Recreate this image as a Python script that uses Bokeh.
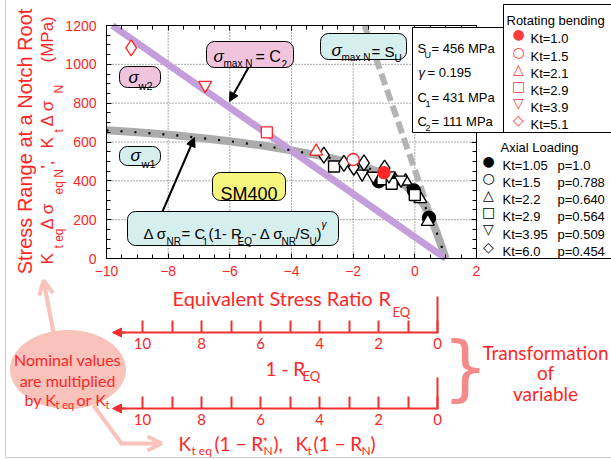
import numpy as np
from bokeh.plotting import figure
from bokeh.models import (Range1d, LinearAxis, Label, Arrow, NormalHead, OpenHead,
                          BoxAnnotation, PolyAnnotation, FixedTicker)
from bokeh.embed import file_html
from bokeh.resources import INLINE

# ---------------- data ----------------
x_major = [-10, -8, -6, -4, -2, 0, 2]
x_minor = [v / 2 for v in range(-20, 5)]
y_major = [0, 200, 400, 600, 800, 1000, 1200]
y_minor = list(range(0, 1201, 50))
x_grid = [-8, -6, -4, -2, 0]
y_grid = [200, 400, 600, 800, 1000]

# sigma_max,N = C2 (straight line)
c2_R = [-9.81, 1.0]
c2_S = [1200, 0]
# sigma_max,N = S_U (straight line)
su_R = [-1.63, 1.0]
su_S = [1200, 0]
# model curve  dS_NR = C1(1 - R_EQ - dS_NR/S_U)^gamma
nr_R = [-10, -9, -8, -7, -6, -5, -4, -3, -2, -1.5, -1, -0.5, 0, 0.3, 0.5, 0.7, 0.85, 1.0]
nr_S = [660, 650, 638, 622, 604, 583, 557, 527, 490, 465, 437, 400, 335, 275, 218, 138, 70, 0]

# rotating bending (red)
rb_labels = ["Kt=1.0", "Kt=1.5", "Kt=2.1", "Kt=2.9", "Kt=3.9", "Kt=5.1"]
rb_R = [-1.0, -2.0, -3.2, -4.8, -6.8, -9.2]
rb_S = [442, 510, 552, 650, 893, 1085]

# axial loading (black)
ax_labels = ["Kt=1.05", "Kt=1.5", "Kt=2.2", "Kt=2.9", "Kt=3.95", "Kt=6.0"]
ax_p = ["p=1.0", "p=0.788", "p=0.640", "p=0.564", "p=0.509", "p=0.454"]
ax_R_105 = [-1.17, -0.03, 0.46]
ax_S_105 = [398, 350, 210]
ax_R_15 = []
ax_S_15 = []
ax_R_22 = [-0.62, -0.30, 0.18, 0.42]
ax_S_22 = [400, 398, 307, 190]
ax_R_29 = [-2.62, -1.05, -0.75, 0.0]
ax_S_29 = [474, 408, 385, 327]
ax_R_395 = [-1.71, -1.35, -0.84, -0.45]
ax_S_395 = [436, 425, 427, 405]
ax_R_60 = [-2.95, -2.30, -1.98, -1.65, -0.98]
ax_S_60 = [532, 490, 470, 492, 465]

# transformed-variable scales (1 - R_EQ and K(1 - R_N))
trans_major = [0, 2, 4, 6, 8, 10]
trans_minor = [1, 3, 5, 7, 9]

RED = "#ff2626"
LRED = "#f03030"
PINK = "#f9c2ba"
BOXPINK = "#f1c4de"
BOXCYAN = "#d5eeee"

W, H = 611, 459

# reference-pixel -> data helpers (the plot box spans R=-10..2, 0..1200 MPa)
def X(px):
    return (px - 106) / (370 / 12) - 10

def Y(py):
    return (258 - py) / (233 / 1200)

def T(px):  # transformed scale value at a pixel
    return (437 - px) / 29.5

# ---------------- figure ----------------
p = figure(width=W, height=H, x_range=Range1d(X(0), X(W)), y_range=Range1d(Y(H), Y(0)),
           x_axis_type=None, y_axis_type=None, min_border=0,
           output_backend="svg", toolbar_location=None)
p.outline_line_color = None
p.background_fill_color = "white"
p.border_fill_color = "white"
p.extra_x_ranges = {"trans": Range1d(T(0), T(W))}

def mk_axis(fixed, ticks, minor, bounds, labels=True, x_range_name="default",
            tick_len=5, minor_len=4, color="black", width=1, size="14px",
            font="Liberation Sans", standoff=8):
    kw = dict(fixed_location=fixed, bounds=bounds,
              ticker=FixedTicker(ticks=ticks, minor_ticks=minor),
              major_tick_in=tick_len, major_tick_out=0,
              minor_tick_in=minor_len, minor_tick_out=0,
              axis_line_color=color, axis_line_width=width,
              major_tick_line_color=color, major_tick_line_width=width,
              minor_tick_line_color=color, minor_tick_line_width=width,
              major_label_text_color=RED, major_label_text_font=font,
              major_label_text_font_size=size, major_label_standoff=standoff)
    if not labels:
        kw.update(major_label_text_alpha=0, major_label_text_font_size="1px")
    if x_range_name != "default":
        kw["x_range_name"] = x_range_name
    return LinearAxis(**kw)

p.add_layout(mk_axis(0, x_major, x_minor, (-10, 2), standoff=7), "below")
p.add_layout(mk_axis(-10, y_major, y_minor, (0, 1200), standoff=10), "left")
p.add_layout(mk_axis(1200, x_major, x_minor, (-10, 2), labels=False), "above")
p.add_layout(mk_axis(2, y_major, y_minor, (0, 1200), labels=False), "right")

# transformed-variable axes
for ly in (332, 408):
    p.add_layout(mk_axis(Y(ly), trans_major, trans_minor, (0, T(113)),
                         x_range_name="trans", tick_len=12, minor_len=12,
                         color=LRED, width=2, size="15px", font="Lato", standoff=5),
                 "below")

# grid
p.segment(x0=x_grid, y0=0, x1=x_grid, y1=1200, line_color="#555555", line_dash="1 2")
p.segment(x0=-10, y0=y_grid, x1=2, y1=y_grid, line_color="#555555", line_dash="1 2")

# curves
p.line(su_R, su_S, line_color="#b4b4b4", line_width=6, line_dash="12 5")
p.line(nr_R, nr_S, line_color="#ababab", line_width=8)
p.line(c2_R, c2_S, line_color="#c49ddb", line_width=7)
p.line(nr_R, nr_S, line_color="black", line_width=2.2, line_dash="2 12")

# axial loading points
bk = dict(line_color="black", line_width=1.4)
p.scatter(ax_R_105, ax_S_105, marker="circle", size=13, fill_color="black", **bk)
p.scatter(ax_R_15, ax_S_15, marker="circle", size=12, fill_color="white", **bk)
p.scatter(ax_R_22, ax_S_22, marker="triangle", size=13, fill_color="white", **bk)
p.scatter(ax_R_29, ax_S_29, marker="square", size=11, fill_color="white", **bk)
p.scatter(ax_R_395, ax_S_395, marker="inverted_triangle", size=13, fill_color="white", **bk)
p.scatter(ax_R_60, ax_S_60, marker="diamond", size=16, fill_color="white", **bk)

# rotating bending points
rb_markers = ["circle", "circle", "triangle", "square", "inverted_triangle", "diamond"]
rb_sizes = [12, 12, 13, 11, 13, 16]
for i in range(6):
    p.scatter([rb_R[i]], [rb_S[i]], marker=rb_markers[i], size=rb_sizes[i],
              line_color=RED, line_width=1.3,
              fill_color=RED if i == 0 else "white")

# ---------------- annotation helpers ----------------
def lab(text, px, py, size, color="black", font="Liberation Sans", style="normal",
        align="left", baseline="alphabetic", angle=0.0):
    p.add_layout(Label(x=X(px), y=Y(py), text=text, text_font=font,
                       text_font_size=f"{size}px", text_color=color,
                       text_font_style=style, text_align=align,
                       text_baseline=baseline, angle=angle))

def box(l, t, r, b, fill, radius=8, line="black"):
    p.add_layout(BoxAnnotation(left=X(l), right=X(r), top=Y(t), bottom=Y(b),
                               fill_color=fill, fill_alpha=1 if fill else 0,
                               line_color=line, line_width=1, line_alpha=1,
                               border_radius=radius))

def seg(x0, y0, x1, y1, color, width, head=None):
    p.add_layout(Arrow(x_start=X(x0), y_start=Y(y0), x_end=X(x1), y_end=Y(y1),
                       line_color=color, line_width=width, end=head))

# light frame around the whole picture
box(5, -5, 640, 457, None, radius=0, line="#cccccc")

# ---------------- boxes inside the plot ----------------
box(206, 41, 293, 67, BOXPINK)
lab("σ", 213, 56, 17, style="italic")
lab("max N", 223, 63, 10)
lab("= C", 255, 56, 16)
lab("2", 281, 63, 10)

box(119, 66, 160, 87, BOXPINK)
lab("σ", 128, 77, 17, style="italic")
lab("w2", 138, 85, 11)

box(119, 146, 160, 165, BOXCYAN)
lab("σ", 130, 155, 17, style="italic")
lab("w1", 141, 163, 11)

box(212, 172, 285, 200, "#f6f67e")
lab("SM400", 248.5, 193, 18, align="center")

box(127, 211, 338, 245, BOXCYAN)
lab("Δ σ", 143, 233, 15)
lab("NR", 166, 241, 10)
lab("= C", 181, 233, 15)
lab("1", 202, 241, 10)
lab("(1- R", 208, 233, 15)
lab("EQ", 237, 241, 10)
lab("- Δ σ", 251, 233, 15)
lab("NR", 281, 241, 10)
lab("/S", 295, 233, 15)
lab("U", 309, 241, 10)
lab(")", 316, 233, 15)
lab("γ", 321, 224, 10, style="italic")

box(320, 33, 406, 59, BOXCYAN)
lab("σ", 331, 50, 17, style="italic")
lab("max N", 341, 57, 10)
lab("= S", 371, 51, 15)
lab("U", 394, 58, 10)

seg(248, 67, 229, 101, "black", 2, NormalHead(size=9, fill_color="black", line_color="black"))
seg(162, 211, 194, 137, "black", 2, NormalHead(size=9, fill_color="black", line_color="black"))

# ---------------- parameter box ----------------
box(412, 27, 503, 132, "white", radius=0)
lab("S", 417, 48, 13)
lab("U", 424, 54, 9)
lab("= 456 MPa", 431, 48, 13)
lab("γ", 418, 72, 13, style="italic")
lab("= 0.195", 427, 72, 13)
lab("C", 417, 97, 13)
lab("1", 425, 103, 9)
lab("= 431 MPa", 431, 97, 13)
lab("C", 417, 121, 13)
lab("2", 425, 127, 9)
lab("= 111 MPa", 431, 121, 13)

# ---------------- legends ----------------
box(503, 4, 614, 132, "white", radius=0)
lab("Rotating bending", 506, 20, 13)
rb_syms = ["●", "○", "△", "□", "▽", "◇"]
rb_y = [33.3, 51.3, 68.3, 85.3, 102.3, 119.3]
for i in range(6):
    lab(rb_syms[i], 518, rb_y[i], 14, color="#ff3b3b", font="DejaVu Sans", align="center", baseline="middle")
    lab(rb_labels[i], 530, rb_y[i] + 5, 13)

box(476, 132, 614, 258, "white", radius=0)
lab("Axial Loading", 500, 147, 13)
ax_syms = ["●", "○", "△", "□", "▽", "◇"]
ax_y = [160, 177.3, 194.3, 211.3, 228.7, 246]
for i in range(6):
    lab(ax_syms[i], 488, ax_y[i], 14, font="DejaVu Sans", align="center", baseline="middle")
    lab(ax_labels[i], 502, ax_y[i] + 5, 13)
    lab(ax_p[i], 557, ax_y[i] + 5, 13)

# ---------------- axis titles ----------------
lab("Stress Range at a Notch Root", 24, 141, 20, color=RED, align="center", angle=np.pi / 2)
ylab2 = [("K", 47, 264, 17), ("t eq", 58, 248, 12), ("Δ σ", 47, 229, 17), ("eq N", 58, 194, 12),
         ("',", 47, 168, 17), ("K", 47, 148, 17), ("t", 58, 132, 12), ("Δ σ", 47, 126, 17),
         ("N", 58, 93, 12), ("(MPa)", 47, 62, 17)]
for t_, xx, yy, s in ylab2:
    lab(t_, xx, yy, s, color=RED, angle=np.pi / 2)

lab("Equivalent Stress Ratio", 172, 297, 20, color=RED, font="Lato")
lab("R", 378, 297, 20, color=RED, font="Lato")
lab("EQ", 392, 311, 13, color=RED, font="Lato")

# ---------------- transformed-variable decorations ----------------
for ly, bar in [(332, 36), (408, 31)]:
    seg(125, ly, 112, ly, LRED, 2, NormalHead(size=9, fill_color=LRED, line_color=LRED))
    seg(437, ly - bar, 437, ly + 1, LRED, 2)

lab("1 - R", 265, 368, 19, color=RED, font="Lato")
lab("EQ", 302, 375, 13, color=RED, font="Lato")

lab("K", 178, 443, 19, color=RED, font="Lato")
lab("t eq", 191, 450, 12, color=RED, font="Lato")
lab("(1 − R", 214, 443, 19, color=RED, font="Lato")
lab("*", 262, 441, 13, color=RED, font="Lato")
lab("N", 263, 450, 12, color=RED, font="Lato")
lab("),", 273, 443, 19, color=RED, font="Lato")
lab("K", 295, 443, 19, color=RED, font="Lato")
lab("t", 307, 450, 12, color=RED, font="Lato")
lab("(1 − R", 313, 443, 19, color=RED, font="Lato")
lab("N", 361, 450, 12, color=RED, font="Lato")
lab(")", 370, 443, 19, color=RED, font="Lato")

lab("}", 465, 366, 72, color="#f48a8a", font="DejaVu Sans", align="center", baseline="middle")
lab("Transformation", 545, 352, 19, color=RED, font="Lato", align="center")
lab("of", 545, 372, 19, color=RED, font="Lato", align="center")
lab("variable", 545, 393, 19, color=RED, font="Lato", align="center")

# ---------------- nominal-values callout ----------------
tt = np.linspace(0, 2 * np.pi, 80)
p.add_layout(PolyAnnotation(xs=[X(67.5 + 57.5 * np.cos(a)) for a in tt],
                            ys=[Y(369 + 39 * np.sin(a)) for a in tt],
                            fill_color=PINK, fill_alpha=1, line_color=PINK, line_alpha=1))
seg(53, 332, 43, 280, PINK, 4, OpenHead(size=14, line_color=PINK, line_width=4))
seg(93, 405, 121, 443, PINK, 4)
seg(119, 443, 161, 443, PINK, 4, OpenHead(size=14, line_color=PINK, line_width=4))
lab("Nominal values", 67, 359, 16, color=RED, font="Lato", align="center")
lab("are multiplied", 67, 380, 16, color=RED, font="Lato", align="center")
lab("by K", 24, 399, 16, color=RED, font="Lato")
lab("t eq", 55, 404, 11, color=RED, font="Lato")
lab("or K", 76, 399, 16, color=RED, font="Lato")
lab("t", 105, 404, 11, color=RED, font="Lato")

open("out.html", "w").write(file_html(p, INLINE))
